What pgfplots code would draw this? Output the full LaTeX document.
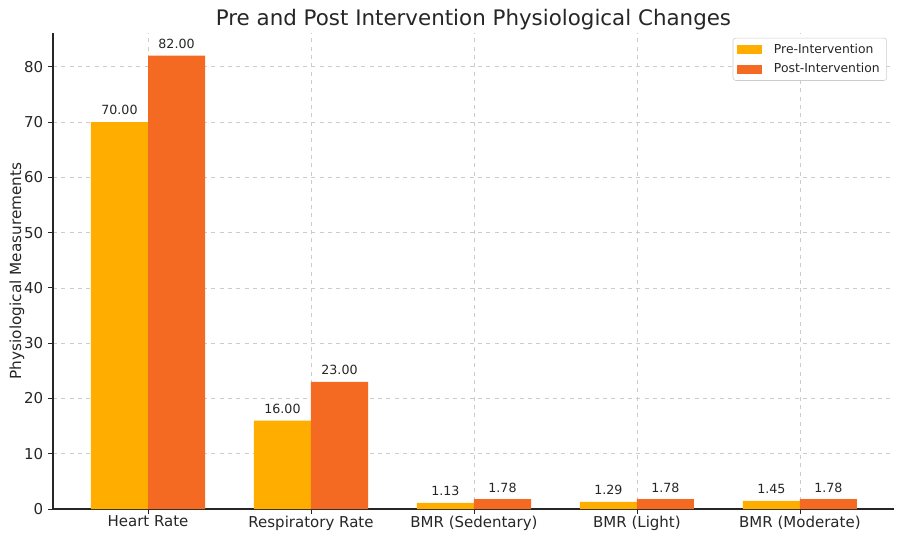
\documentclass[border=0pt]{standalone}
\usepackage{fontspec}
\setmainfont{DejaVu Sans}
\usepackage{pgfplots}
\pgfplotsset{compat=1.18}
\definecolor{preC}{RGB}{255,174,0}
\definecolor{postC}{RGB}{244,106,34}
\definecolor{txt}{RGB}{38,38,38}
\definecolor{gridC}{RGB}{204,204,204}
\begin{document}
\begin{tikzpicture}
\path[use as bounding box] (-38.16pt,-21.6pt) rectangle (611.3pt,366.5pt);
\begin{axis}[
  scale only axis,
  width=605.5pt, height=342.7pt,
  xmin=-0.583, xmax=4.577,
  ymin=0, ymax=86.1,
  axis lines=left,
  axis line style={-, line width=0.8pt, black!85},
  xtick={0,1,2,3,4},
  xticklabels={Heart Rate, Respiratory Rate, BMR (Sedentary), BMR (Light), BMR (Moderate)},
  xticklabel style={yshift=2pt},
  ytick={0,10,20,30,40,50,60,70,80},
  tick align=outside,
  tick style={black!85, line width=0.6pt},
  major tick length=3.5pt,
  tick label style={font=\fontsize{10.8pt}{12pt}\selectfont, text=txt},
  /pgf/number format/assume math mode=true,
  grid=major,
  major grid style={dashed, gridC, line width=0.5pt},
  title={Pre and Post Intervention Physiological Changes},
  title style={font=\fontsize{15.4pt}{18pt}\selectfont, text=txt, at={(0.5,1)}, anchor=base, yshift=-0.5pt},
  ylabel={Physiological Measurements},
  ylabel style={font=\fontsize{11pt}{12pt}\selectfont, text=txt, at={(axis description cs:-0.0428,0.5)}, anchor=center},
  ybar,
  bar width=0.35,
  nodes near coords,
  nodes near coords style={font=\fontsize{9.1pt}{10pt}\selectfont, text=txt, /pgf/number format/fixed, /pgf/number format/fixed zerofill, /pgf/number format/precision=2, /pgf/number format/assume math mode=true, yshift=1.5pt},
  legend style={at={(0.9917,0.99)}, anchor=north east, font=\fontsize{8.9pt}{10pt}\selectfont, text=txt, draw=gridC, rounded corners=2pt, fill=white, row sep=2pt, inner xsep=3pt, inner ysep=2pt},
  legend cell align=left,
  legend image code/.code={\draw[#1, draw=none, sharp corners] (0pt,-3.2pt) rectangle (18pt,3.2pt); \path (24.5pt,0pt);},
]
\addplot[fill=preC, draw=none, bar shift=-0.175] coordinates {(0,70) (1,16) (2,1.13) (3,1.29) (4,1.45)};
\addplot[fill=postC, draw=none, bar shift=0.175] coordinates {(0,82) (1,23) (2,1.78) (3,1.78) (4,1.78)};
\legend{Pre-Intervention, Post-Intervention}
\end{axis}
\end{tikzpicture}
\end{document}
